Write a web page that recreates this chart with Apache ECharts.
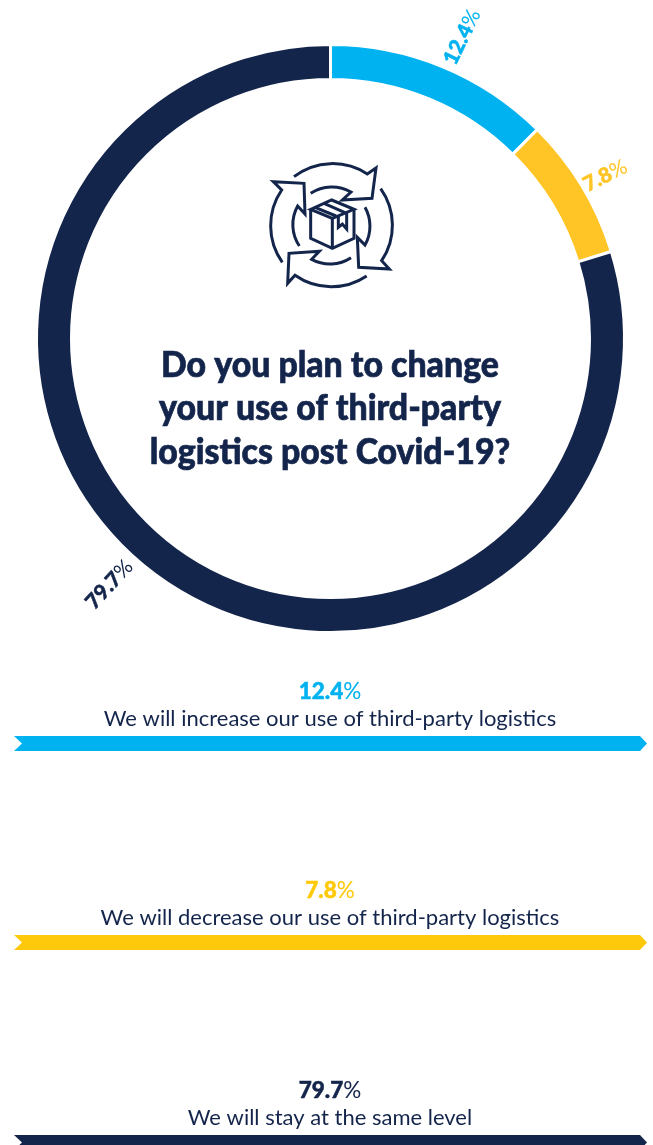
<!DOCTYPE html>
<html>
<head>
<meta charset="utf-8">
<style>
html,body{margin:0;padding:0;background:#fff;overflow:hidden}
#chart{width:653px;height:1145px}
</style>
<script src="https://cdn.jsdelivr.net/npm/echarts@6/dist/echarts.min.js"></script>
</head>
<body>
<div id="chart"></div>
<script>
var answers = ['We will increase our use of third-party logistics', 'We will decrease our use of third-party logistics', 'We will stay at the same level'];
var shares = [12.4, 7.8, 79.7];
var titleLines = ['Do you plan to change', 'your use of third-party', 'logistics post Covid-19?'];

var colors = ['#00B2EF', '#FFC425', '#14254C'];
var barColors = ['#00B2EF', '#FFC90B', '#14254C'];
var ringRotate = [64, 27, 47];
var labelNudgeX = [-4, -10, 2];
var labelNudgeY = [1, 0, -25];
var rowY = [692, 891, 1091];

var navy = '#14254C';
var font = 'Lato';

// recycling arrows and box, drawn in 3x zoom units
var iconPaths = [
	'M132 80 A190 190 0 0 1 352 72 L378 54 L366 145 L277 150 L303 126 A115 115 0 0 0 182 130',
	'M392 116 A190 190 0 0 1 395 332 L418 357 L326 352 L322 262 L345 285 A115 115 0 0 0 345 172',
	'M350 378 A190 190 0 0 1 135 376 L113 400 L117 310 L208 304 L185 328 A115 115 0 0 0 303 323',
	'M97 337 A190 190 0 0 1 95 120 L70 95 L162 100 L165 192 L143 168 A115 115 0 0 0 148 288',
	'M245 150 L312 178 L247 205 L182 178 Z',
	'M182 178 L182 265 L247 295 L312 265 L312 178 M247 205 L247 295',
	'M195 172 L258 198 M222 160 L285 188',
	'M265 196 L265 232 L277 222 L290 237 L290 185'
];

var graphics = [];
iconPaths.forEach(function (d, i) {
	echarts.graphic.registerShape('icon' + i, echarts.graphic.extendPath(d, {}));
	graphics.push({
		type: 'icon' + i,
		silent: true,
		x: 250, y: 150, scaleX: 1 / 3, scaleY: 1 / 3,
		style: { fill: null, stroke: navy, lineWidth: 9, lineJoin: 'miter' }
	});
});

titleLines.forEach(function (line, i) {
	graphics.push({
		type: 'text',
		x: 330, y: 365 + i * 43.5,
		scaleX: 0.94,
		style: {
			text: line, font: '900 36px ' + font, fill: navy,
			stroke: navy, lineWidth: 0.7,
			align: 'center', verticalAlign: 'middle'
		}
	});
});

answers.forEach(function (answer, i) {
	var y = rowY[i];
	graphics.push({
		type: 'text',
		x: 330, y: y,
		style: {
			text: '{b|' + shares[i].toFixed(1) + '}{r|%}',
			align: 'center', verticalAlign: 'middle',
			rich: {
				b: { font: '900 22.5px ' + font, fill: barColors[i], stroke: barColors[i], lineWidth: 0.5 },
				r: { font: '400 22.5px ' + font, fill: barColors[i] }
			}
		}
	});
	graphics.push({
		type: 'text',
		x: 330, y: y + 27,
		style: { text: answer, font: '400 22px ' + font, fill: navy, align: 'center', verticalAlign: 'middle' }
	});
	// arrow ribbon under each answer
	var top = y + 44, bottom = y + 59, mid = y + 51.5;
	graphics.push({
		type: 'polygon',
		silent: true,
		shape: { points: [[14, top], [640, top], [647, mid], [640, bottom], [14, bottom], [22, mid]] },
		style: { fill: barColors[i] }
	});
});

var chart = echarts.init(document.getElementById('chart'));
chart.setOption({
	animation: false,
	backgroundColor: '#fff',
	series: [{
		type: 'pie',
		center: [330.5, 338.5],
		radius: [259, 294],
		startAngle: 90,
		clockwise: true,
		silent: true,
		labelLine: { show: false, length: 8, length2: 0 },
		labelLayout: function (params) {
			return { dx: labelNudgeX[params.dataIndex], dy: labelNudgeY[params.dataIndex] };
		},
		itemStyle: { borderColor: '#fff', borderWidth: 3 },
		data: shares.map(function (v, i) {
			return {
				value: v,
				name: answers[i],
				itemStyle: { color: colors[i] },
				label: {
					show: true,
					position: 'outside',
					rotate: ringRotate[i],
					formatter: '{b|' + v.toFixed(1) + '}{r|%}',
					rich: {
						b: { fontFamily: font, fontWeight: 900, fontSize: 21, color: colors[i], textBorderColor: colors[i], textBorderWidth: 0.5 },
						r: { fontFamily: font, fontWeight: 400, fontSize: 21, color: colors[i] }
					}
				}
			};
		})
	}],
	graphic: graphics
});
</script>
</body>
</html>
